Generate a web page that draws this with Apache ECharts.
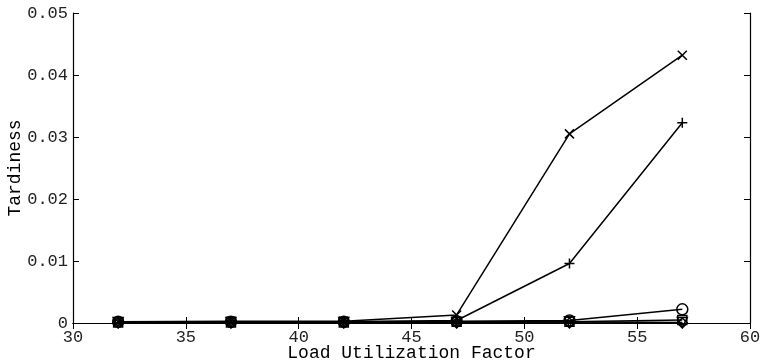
<!DOCTYPE html>
<html>
<head>
<meta charset="utf-8">
<script src="https://cdn.jsdelivr.net/npm/echarts@6/dist/echarts.min.js"></script>
<style>
  html, body { margin: 0; padding: 0; background: #fff; }
  #chart { width: 763px; height: 362px; }
</style>
</head>
<body>
<div id="chart"></div>
<script>
// load utilization factor
const loads = [32, 37, 42, 47, 52, 57]
// tardiness per policy
const seriesCross = [0.0002, 0.0003, 0.0003, 0.0013, 0.0305, 0.0432]
const seriesPlus = [0.0001, 0.0002, 0.0002, 0.0004, 0.0096, 0.0323]
const seriesCircle = [0.0002, 0.0002, 0.0002, 0.0003, 0.0004, 0.0022]
const seriesSquare = [0.0001, 0.0001, 0.0001, 0.0002, 0.0002, 0.0005]
const seriesTriangle = [0.0001, 0.0001, 0.0001, 0.0001, 0.0002, 0.0001]
const seriesDiamond = [0, 0, 0, 0, 0, 0]

const FONT = 'Liberation Mono'
const crossPath = 'path://M0,0L10,10M10,0L0,10'
const plusPath = 'path://M5,0L5,10M0,5L10,5'

function mk (name, values, symbol, size) {
  return {
    name: name,
    type: 'line',
    data: loads.map((x, i) => [x, values[i]]),
    symbol: symbol,
    symbolSize: size,
    showSymbol: true,
    showAllSymbol: true,
    clip: false,
    lineStyle: { color: '#000', width: 1.5 },
    itemStyle: { color: 'rgba(0,0,0,0)', borderColor: '#000', borderWidth: 1.5 },
    z: 3
  }
}

const chart = echarts.init(document.getElementById('chart'))
const axisCommon = {
  axisLine: { show: true, lineStyle: { color: '#000', width: 1.2 } },
  axisTick: { show: true, inside: true, length: 6, lineStyle: { color: '#000' } },
  splitLine: { show: false }
}
chart.setOption({
  animation: false,
  grid: {
    left: 73, right: 13, top: 13, bottom: 39, show: false,
    containLabel: false, outerBoundsMode: 'none'
  },
  xAxis: [
    Object.assign({
      type: 'value', min: 30, max: 60, interval: 5,
      name: 'Load Utilization Factor', nameLocation: 'middle', nameGap: 21,
      nameMoveOverlap: false,
      nameTextStyle: { fontFamily: FONT, fontSize: 18, color: '#000' },
      axisLabel: { fontFamily: FONT, fontSize: 17, color: '#222', margin: 6 }
    }, axisCommon),
    Object.assign({
      type: 'value', min: 30, max: 60, interval: 5, position: 'top',
      axisLabel: { show: false }
    }, axisCommon)
  ],
  yAxis: [
    Object.assign({
      type: 'value', min: 0, max: 0.05, interval: 0.01,
      name: 'Tardiness', nameLocation: 'middle', nameGap: 49,
      nameMoveOverlap: false,
      nameTextStyle: { fontFamily: FONT, fontSize: 18, color: '#000' },
      axisLabel: {
        fontFamily: FONT, fontSize: 17, color: '#222', margin: 5,
        formatter: v => v === 0 ? '0' : v.toFixed(2)
      }
    }, axisCommon),
    Object.assign({
      type: 'value', min: 0, max: 0.05, interval: 0.01, position: 'right',
      axisLabel: { show: false }
    }, axisCommon)
  ],
  series: [
    mk('diamond', seriesDiamond, 'diamond', 10),
    mk('triangle', seriesTriangle, 'path://M0,0L10,0L5,10Z', 10),
    mk('square', seriesSquare, 'rect', 9),
    mk('circle', seriesCircle, 'circle', 11),
    mk('plus', seriesPlus, plusPath, 10),
    mk('cross', seriesCross, crossPath, 9)
  ]
})
</script>
</body>
</html>
